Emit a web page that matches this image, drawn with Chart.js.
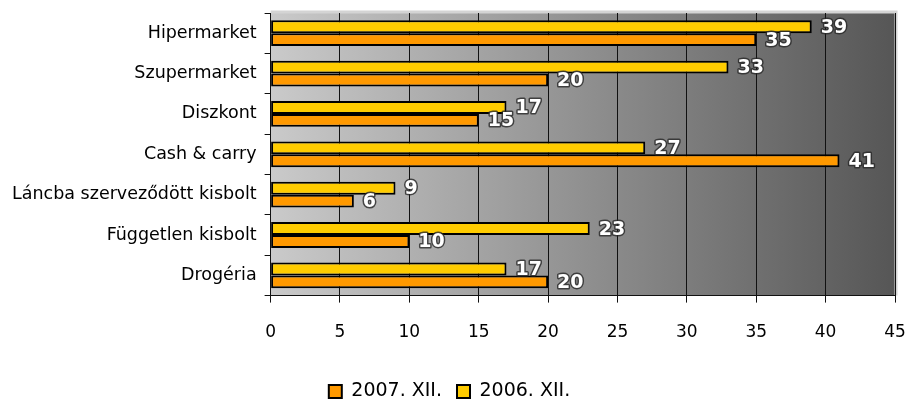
<!DOCTYPE html>
<html>
<head>
<meta charset="utf-8">
<script src="https://cdn.jsdelivr.net/npm/chart.js@4"></script>
<style>
  html, body { margin: 0; padding: 0; background: #fff; }
  #wrap { width: 912px; height: 405px; }
</style>
</head>
<body>
<div id="wrap"><canvas id="myChart"></canvas></div>
<script>
// categories along the y-axis
var shops = ["Hipermarket", "Szupermarket", "Diszkont", "Cash & carry",
  "Láncba szerveződött kisbolt", "Független kisbolt", "Drogéria"];
// values per year
var dec2006 = [39, 33, 17, 27, 9, 23, 17];
var dec2007 = [35, 20, 15, 41, 6, 10, 20];

// gray gradient behind the bars, plus light frame
var plotBg = {
  id: 'plotBg',
  beforeDraw: function (chart) {
    var a = chart.chartArea, c = chart.ctx;
    var g = c.createLinearGradient(a.left, 0, a.right, 0);
    g.addColorStop(0, '#cacaca');
    g.addColorStop(1, '#565656');
    c.save();
    c.fillStyle = g;
    c.fillRect(a.left, a.top, a.right - a.left, a.bottom - a.top);
    c.strokeStyle = '#d4d4d4';
    c.lineWidth = 3;
    c.beginPath();
    c.moveTo(a.left, a.top - 1);
    c.lineTo(a.right + 1, a.top - 1);
    c.lineTo(a.right + 1, a.bottom);
    c.stroke();
    c.restore();
  }
};

// push the legend a bit lower
var legendShift = {
  id: 'legendShift',
  afterLayout: function (chart) {
    chart.legend.top += 6;
    chart.legend.bottom += 6;
  }
};

// white numbers with dark outline next to each bar
var barLabels = {
  id: 'barLabels',
  afterDatasetsDraw: function (chart) {
    var c = chart.ctx;
    c.save();
    c.font = 'bold 19px "DejaVu Sans"';
    c.textBaseline = 'middle';
    c.textAlign = 'left';
    c.lineJoin = 'round';
    chart.data.datasets.forEach(function (ds, i) {
      chart.getDatasetMeta(i).data.forEach(function (bar, j) {
        var t = String(ds.data[j]);
        c.lineWidth = 3;
        c.strokeStyle = 'rgba(40,40,40,0.8)';
        c.strokeText(t, bar.x + 9, bar.y + 1);
        c.fillStyle = '#ffffff';
        c.fillText(t, bar.x + 9, bar.y + 1);
      });
    });
    c.restore();
  }
};

var ctx = document.getElementById("myChart");
var myChart = new Chart(ctx, {
  type: 'bar',
  data: {
    labels: shops,
    datasets: [
      {
        data: dec2006,
        label: "2006. XII.",
        backgroundColor: "#ffcc00",
        borderColor: "#000000",
        borderWidth: 2,
        borderSkipped: false
      },
      {
        data: dec2007,
        label: "2007. XII.",
        backgroundColor: "#ff9900",
        borderColor: "#000000",
        borderWidth: 2,
        borderSkipped: false
      }
    ]
  },
  options: {
    indexAxis: 'y',
    responsive: true,
    maintainAspectRatio: false,
    animation: false,
    datasets: { bar: { categoryPercentage: 0.64, barPercentage: 1.0 } },
    layout: { padding: { top: 13, right: 17, left: 4, bottom: 0 } },
    scales: {
      x: {
        min: 0,
        max: 45,
        ticks: { stepSize: 5, color: '#000', font: { family: 'DejaVu Sans', size: 17 }, padding: 20 },
        grid: { color: '#111', lineWidth: 1, drawOnChartArea: true, tickLength: 7 },
        border: { color: '#111', width: 1 },
        afterFit: function (s) { s.paddingRight = 0; s.height -= 2; }
      },
      y: {
        ticks: { color: '#000', font: { family: 'DejaVu Sans', size: 17.5 }, padding: 8 },
        grid: { drawOnChartArea: false, color: '#111', tickLength: 6 },
        border: { color: '#111', width: 1 },
        afterFit: function (s) { s.paddingTop = 0; s.paddingBottom = 0; }
      }
    },
    plugins: {
      legend: {
        position: 'bottom',
        reverse: true,
        labels: {
          color: '#000',
          font: { family: 'DejaVu Sans', size: 19 },
          boxWidth: 13,
          boxHeight: 13,
          padding: 15
        }
      },
      tooltip: { enabled: false }
    }
  },
  plugins: [plotBg, legendShift, barLabels]
});
</script>
</body>
</html>
